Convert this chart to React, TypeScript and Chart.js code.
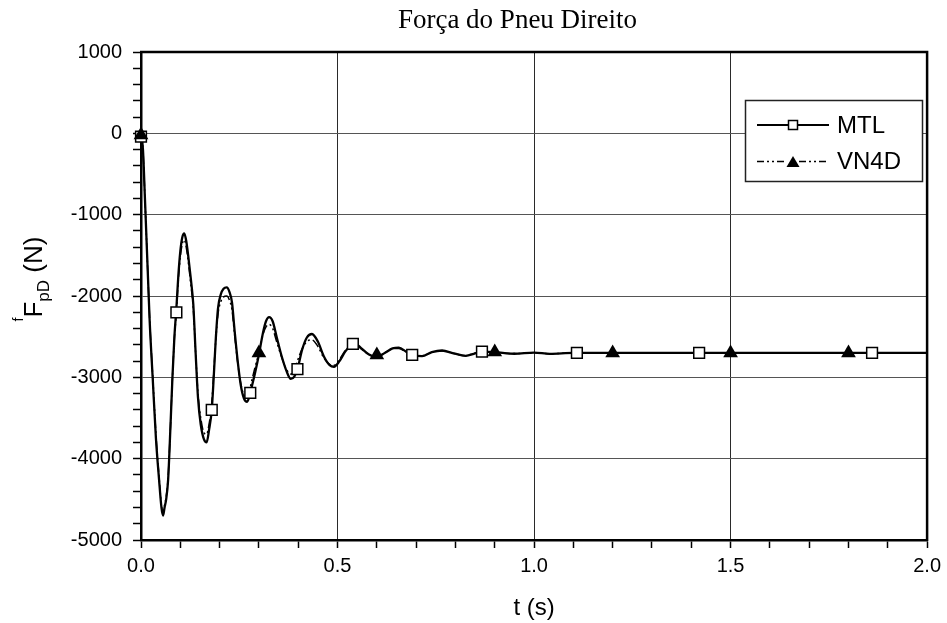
import { useEffect, useRef } from 'react';
import { Chart, registerables } from 'chart.js';

Chart.register(...registerables);

const TITLE = 'Força do Pneu Direito';
const X_TITLE = 't (s)';
const SERIES_NAMES = ['MTL', 'VN4D'];

const X_MIN = 0;
const X_MAX = 2;
const Y_MIN = -5000;
const Y_MAX = 1000;
const X_MAJOR_STEP = 0.5;
const X_MINOR_STEP = 0.1;
const Y_MAJOR_STEP = 1000;
const Y_MINOR_STEP = 200;

const mtlT = [0, 0.005, 0.01, 0.014, 0.018, 0.022, 0.03, 0.038, 0.046, 0.052, 0.056, 0.06, 0.064, 0.069, 0.075, 0.08, 0.085, 0.09, 0.095, 0.1, 0.105, 0.11, 0.115, 0.12, 0.127, 0.133, 0.139, 0.145, 0.152, 0.16, 0.167, 0.173, 0.18, 0.185, 0.19, 0.196, 0.203, 0.21, 0.218, 0.225, 0.2315, 0.238, 0.246, 0.254, 0.262, 0.27, 0.276, 0.28, 0.29, 0.3, 0.31, 0.318, 0.326, 0.335, 0.345, 0.357, 0.37, 0.381, 0.39, 0.398, 0.41, 0.422, 0.435, 0.45, 0.465, 0.48, 0.491, 0.505, 0.52, 0.535, 0.545, 0.56, 0.58, 0.6, 0.62, 0.64, 0.656, 0.675, 0.69, 0.715, 0.74, 0.766, 0.795, 0.826, 0.85, 0.8675, 0.9, 0.95, 1.0, 1.04, 1.1, 1.3, 1.6, 2.0];
const mtlF = [0, -200, -800, -1300, -1800, -2300, -3030, -3750, -4260, -4600, -4700, -4600, -4500, -4260, -3600, -3000, -2500, -2150, -1750, -1450, -1280, -1230, -1320, -1500, -1800, -2100, -2700, -3250, -3580, -3760, -3800, -3650, -3400, -3000, -2550, -2150, -1980, -1910, -1895, -1950, -2080, -2420, -2800, -3100, -3260, -3300, -3230, -3150, -2950, -2720, -2460, -2310, -2260, -2310, -2500, -2725, -2920, -3020, -2990, -2900, -2660, -2510, -2467, -2560, -2740, -2850, -2870, -2800, -2680, -2600, -2585, -2640, -2720, -2750, -2700, -2645, -2635, -2685, -2725, -2740, -2690, -2670, -2705, -2735, -2705, -2685, -2690, -2710, -2695, -2712, -2700, -2700, -2700, -2700];

const vn4dT = [0, 0.005, 0.01, 0.014, 0.018, 0.022, 0.03, 0.038, 0.046, 0.052, 0.056, 0.06, 0.064, 0.069, 0.075, 0.08, 0.085, 0.09, 0.095, 0.1, 0.105, 0.11, 0.115, 0.12, 0.127, 0.133, 0.139, 0.145, 0.152, 0.16, 0.167, 0.173, 0.18, 0.185, 0.19, 0.196, 0.203, 0.21, 0.218, 0.225, 0.2315, 0.238, 0.246, 0.254, 0.262, 0.27, 0.276, 0.28, 0.29, 0.3, 0.31, 0.318, 0.326, 0.335, 0.345, 0.357, 0.37, 0.381, 0.39, 0.398, 0.41, 0.422, 0.435, 0.45, 0.465, 0.48, 0.491, 0.505, 0.52, 0.535, 0.545, 0.56, 0.58, 0.6, 0.62, 0.64, 0.656, 0.675, 0.69, 0.715, 0.74, 0.766, 0.795, 0.826, 0.85, 0.8675, 0.9, 0.95, 1.0, 1.04, 1.1, 1.3, 1.6, 2.0];
const vn4dF = [0, -200, -800, -1300, -1800, -2280, -3000, -3700, -4230, -4570, -4660, -4570, -4470, -4230, -3600, -3000, -2520, -2200, -1800, -1520, -1360, -1310, -1400, -1570, -1870, -2150, -2700, -3200, -3500, -3680, -3700, -3580, -3320, -2950, -2560, -2220, -2070, -2010, -2000, -2050, -2170, -2470, -2820, -3080, -3220, -3250, -3180, -3080, -2880, -2700, -2480, -2380, -2350, -2400, -2560, -2740, -2900, -2960, -2920, -2800, -2650, -2560, -2540, -2620, -2760, -2840, -2850, -2780, -2670, -2610, -2600, -2650, -2720, -2750, -2700, -2650, -2645, -2690, -2725, -2735, -2690, -2675, -2705, -2735, -2700, -2688, -2692, -2708, -2697, -2710, -2700, -2700, -2700, -2700];

const mtlMarkT = [0, 0.09, 0.18, 0.278, 0.398, 0.539, 0.69, 0.8675, 1.109, 1.42, 1.86];
const mtlMarkF = [-40, -2200, -3400, -3190, -2900, -2590, -2725, -2685, -2700, -2700, -2700];
const vn4dMarkT = [0, 0.3, 0.6, 0.9, 1.2, 1.5, 1.8];
const vn4dMarkF = [-20, -2700, -2725, -2690, -2700, -2700, -2700];

const SANS = '"Liberation Sans", Arial, sans-serif';
const SERIF = '"Liberation Serif", "Times New Roman", serif';
const VN4D_DASH = [9, 3, 2, 3, 2, 3];

const toXY = (xs: number[], ys: number[]) => xs.map((x, i) => ({ x, y: ys[i] }));
const isMultiple = (v: number, step: number) => Math.abs(v / step - Math.round(v / step)) < 1e-6;

const drawSquare = (ctx: CanvasRenderingContext2D, x: number, y: number, s: number) => {
  ctx.save();
  ctx.fillStyle = '#fff';
  ctx.strokeStyle = '#000';
  ctx.lineWidth = 1.5;
  ctx.setLineDash([]);
  ctx.fillRect(x - s / 2, y - s / 2, s, s);
  ctx.strokeRect(x - s / 2, y - s / 2, s, s);
  ctx.restore();
};

const drawTriangle = (ctx: CanvasRenderingContext2D, x: number, y: number, w: number, h: number) => {
  ctx.save();
  ctx.fillStyle = '#000';
  ctx.beginPath();
  ctx.moveTo(x, y - h / 2);
  ctx.lineTo(x + w / 2, y + h / 2);
  ctx.lineTo(x - w / 2, y + h / 2);
  ctx.closePath();
  ctx.fill();
  ctx.restore();
};

const decorPlugin = {
  id: 'decor',
  afterDraw(chart: any) {
    const ctx: CanvasRenderingContext2D = chart.ctx;
    const a = chart.chartArea;
    ctx.save();
    // frame top & right
    ctx.strokeStyle = '#000';
    ctx.lineWidth = 2.5;
    ctx.beginPath();
    ctx.moveTo(a.left - 1, a.top);
    ctx.lineTo(a.right, a.top);
    ctx.lineTo(a.right, a.bottom + 1);
    ctx.stroke();

    // title
    ctx.fillStyle = '#000';
    ctx.font = `27px ${SERIF}`;
    ctx.textAlign = 'center';
    ctx.textBaseline = 'alphabetic';
    ctx.fillText(TITLE, 517.5, 28);

    // x title
    ctx.font = `24px ${SANS}`;
    ctx.fillText(X_TITLE, (a.left + a.right) / 2, 615);

    // y title: superscript f, F, subscript pD, (N)
    const parts = [
      { t: 'f', size: 14, dy: -19 },
      { t: 'F', size: 26, dy: 0 },
      { t: 'pD', size: 17, dy: 7 },
      { t: ' (N)', size: 26, dy: 0 },
    ];
    let total = 0;
    for (const p of parts) {
      ctx.font = `${p.size}px ${SANS}`;
      total += ctx.measureText(p.t).width;
    }
    ctx.translate(42, 279);
    ctx.rotate(-Math.PI / 2);
    ctx.textAlign = 'left';
    let cx = -total / 2;
    for (const p of parts) {
      ctx.font = `${p.size}px ${SANS}`;
      ctx.fillText(p.t, cx, p.dy);
      cx += ctx.measureText(p.t).width;
    }
    ctx.setTransform(1, 0, 0, 1, 0, 0);

    // legend
    const bx = 745.5, by = 100.5, bw = 177, bh = 81;
    ctx.fillStyle = '#fff';
    ctx.fillRect(bx, by, bw, bh);
    ctx.strokeStyle = '#222';
    ctx.lineWidth = 1.5;
    ctx.strokeRect(bx, by, bw, bh);

    const rows = [125, 161.5];
    const lx0 = 757, lx1 = 829, mx = 793;
    // MTL
    ctx.strokeStyle = '#000';
    ctx.lineWidth = 2;
    ctx.setLineDash([]);
    ctx.beginPath();
    ctx.moveTo(lx0, rows[0]);
    ctx.lineTo(lx1, rows[0]);
    ctx.stroke();
    drawSquare(ctx, mx, rows[0], 9);
    // VN4D
    ctx.lineWidth = 1.5;
    ctx.setLineDash([7, 3, 2, 3, 2, 3]);
    ctx.beginPath();
    ctx.moveTo(lx0, rows[1]);
    ctx.lineTo(mx - 6, rows[1]);
    ctx.stroke();
    ctx.beginPath();
    ctx.moveTo(mx + 6, rows[1]);
    ctx.lineTo(lx1, rows[1]);
    ctx.stroke();
    ctx.setLineDash([]);
    drawTriangle(ctx, mx, rows[1], 13, 11);

    ctx.fillStyle = '#000';
    ctx.font = `24px ${SANS}`;
    ctx.textAlign = 'left';
    ctx.textBaseline = 'middle';
    ctx.fillText(SERIES_NAMES[0], 837, rows[0] + 1);
    ctx.fillText(SERIES_NAMES[1], 837, rows[1] + 1);
    ctx.restore();
  },
};

export default function App() {
  const ref = useRef<HTMLCanvasElement | null>(null);

  useEffect(() => {
    if (!ref.current) return;
    const chart = new Chart(ref.current, {
      type: 'line',
      data: {
        datasets: [
          {
            label: SERIES_NAMES[1] + ' markers',
            data: toXY(vn4dMarkT, vn4dMarkF),
            showLine: false,
            pointStyle: 'triangle',
            pointRadius: 8.5,
            pointBackgroundColor: '#000',
            pointBorderColor: '#000',
            pointBorderWidth: 0,
            clip: false,
            order: 0,
          },
          {
            label: SERIES_NAMES[0] + ' markers',
            data: toXY(mtlMarkT, mtlMarkF),
            showLine: false,
            pointStyle: 'rect',
            pointRadius: 7.6,
            pointBackgroundColor: '#fff',
            pointBorderColor: '#000',
            pointBorderWidth: 1.5,
            clip: false,
            order: 1,
          },
          {
            label: SERIES_NAMES[1],
            data: toXY(vn4dT, vn4dF),
            borderColor: '#000',
            borderWidth: 1.5,
            borderDash: VN4D_DASH,
            pointRadius: 0,
            cubicInterpolationMode: 'monotone',
            clip: false,
            order: 2,
          },
          {
            label: SERIES_NAMES[0],
            data: toXY(mtlT, mtlF),
            borderColor: '#000',
            borderWidth: 2.3,
            pointRadius: 0,
            cubicInterpolationMode: 'monotone',
            clip: false,
            order: 3,
          },
        ],
      },
      options: {
        responsive: false,
        animation: false,
        devicePixelRatio: 1,
        layout: { padding: { left: 0, right: 18, top: 52, bottom: 0 } },
        plugins: {
          legend: { display: false },
          title: { display: false },
          tooltip: { enabled: false },
        },
        scales: {
          x: {
            type: 'linear',
            min: X_MIN,
            max: X_MAX,
            afterFit: (s: any) => {
              s.height = 83;
            },
            border: { display: true, color: '#000', width: 2.5 },
            grid: {
              color: (c: any) => (c.tick && isMultiple(c.tick.value, X_MAJOR_STEP) ? '#2a2a2a' : 'rgba(0,0,0,0)'),
              lineWidth: 1,
              drawTicks: true,
              tickLength: 8,
              tickColor: '#000',
              tickWidth: 1.5,
            },
            ticks: {
              stepSize: X_MINOR_STEP,
              autoSkip: false,
              maxRotation: 0,
              padding: 6,
              color: '#000',
              font: { family: SANS, size: 20 },
              callback: (v: any) => (isMultiple(Number(v), X_MAJOR_STEP) ? Number(v).toFixed(1) : ''),
            },
          },
          y: {
            type: 'linear',
            min: Y_MIN,
            max: Y_MAX,
            afterFit: (s: any) => {
              s.width = 141;
            },
            border: { display: true, color: '#000', width: 2.5 },
            grid: {
              color: (c: any) => (c.tick && isMultiple(c.tick.value, Y_MAJOR_STEP) ? '#555' : 'rgba(0,0,0,0)'),
              lineWidth: 1,
              drawTicks: true,
              tickLength: 8,
              tickColor: '#000',
              tickWidth: 1.5,
            },
            ticks: {
              stepSize: Y_MINOR_STEP,
              autoSkip: false,
              padding: 11,
              color: '#000',
              font: { family: SANS, size: 20 },
              callback: (v: any) => (isMultiple(Number(v), Y_MAJOR_STEP) ? String(Math.round(Number(v))) : ''),
            },
          },
        },
      },
      plugins: [decorPlugin],
    } as any);
    return () => chart.destroy();
  }, []);

  return (
    <div style={{ position: 'absolute', left: 0, top: 0, width: 947, height: 623, background: '#fff' }}>
      <canvas ref={ref} width={947} height={623} style={{ display: 'block' }} />
    </div>
  );
}
